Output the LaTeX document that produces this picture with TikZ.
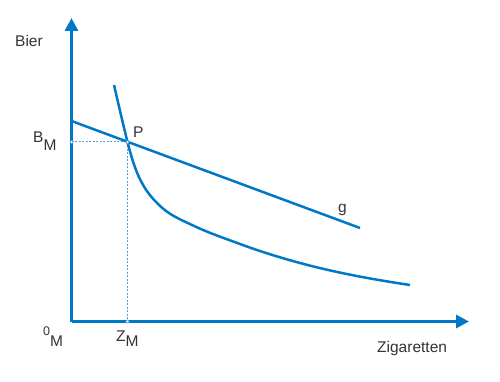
\documentclass[tikz,border=0pt]{standalone}
\usepackage{fontspec}
\setmainfont{Liberation Sans}
\usetikzlibrary{arrows.meta}
\definecolor{axblue}{RGB}{0,120,200}
\definecolor{dotblue}{RGB}{80,160,220}
\definecolor{txt}{RGB}{51,51,51}
\begin{document}
\begin{tikzpicture}[x=1pt,y=-1pt,
  axis/.style={axblue,line width=3pt,-{Triangle[length=13pt,width=13pt]}},
  curve/.style={axblue,line width=2.5pt},
  guide/.style={dotblue,line width=1pt,dash pattern=on 2pt off 1.5pt},
  lbl/.style={text=txt,inner sep=0pt,font=\fontsize{15.5}{18}\selectfont},
  knot/.style={circle,draw=dotblue,fill=white,line width=0.6pt,inner sep=0pt,minimum size=3.5pt}]
\useasboundingbox (0,0) rectangle (500,382);
\coordinate (O) at (71.5,321.5);
\coordinate (ytip) at (71.5,18);
\coordinate (xtip) at (469,321.5);
\coordinate (gA) at (71.5,121);
\coordinate (gB) at (360,228);
\coordinate (Pt) at (127.5,142);
\coordinate (By) at (71.5,142);
\coordinate (Zx) at (127.5,321.5);
% guides
\draw[guide] (By) -- (Pt);
\draw[guide] (Pt) -- (Zx);
% axes
\draw[axis] (O) -- (ytip);
\draw[axis] (O) -- (xtip);
% budget line
\draw[curve] (gA) -- (gB);
% indifference curve
\draw[curve] (114,85)
  .. controls (118.5,104.35) and (123,124) .. (Pt)
  .. controls (131.17,156.67) and (134.83,167.93) .. (138.5,176)
  .. controls (145,190.3) and (151.5,197.5) .. (158,204)
  .. controls (169.33,215.33) and (180.67,219.56) .. (192,225)
  .. controls (208,232.68) and (224,238.08) .. (240,244)
  .. controls (260,251.4) and (280,257.6) .. (300,263)
  .. controls (336.67,272.9) and (373.33,279.5) .. (410,285);
% knots
\node[knot] (k1) at (By) {};
\node[knot] (k2) at (Pt) {};
\node[knot] (k3) at (Zx) {};
% labels
\node[lbl,anchor=base west] (bier) at (15,47) {Bier};
\node[lbl,anchor=base west] (bm) at (33,143) {B\raisebox{-7pt}{M}};
\node[lbl,anchor=base west] (p) at (133,138) {P};
\node[lbl,anchor=base west] (g) at (338,212) {g};
\node[lbl,anchor=base west] (om) at (43,335) {{\fontsize{12.5}{14}\selectfont 0}\raisebox{-11pt}{M}};
\node[lbl,anchor=base west] (zm) at (116,341) {Z\raisebox{-5pt}{M}};
\node[lbl,anchor=base west] (zig) at (377,352) {Zigaretten};
\end{tikzpicture}
\end{document}
